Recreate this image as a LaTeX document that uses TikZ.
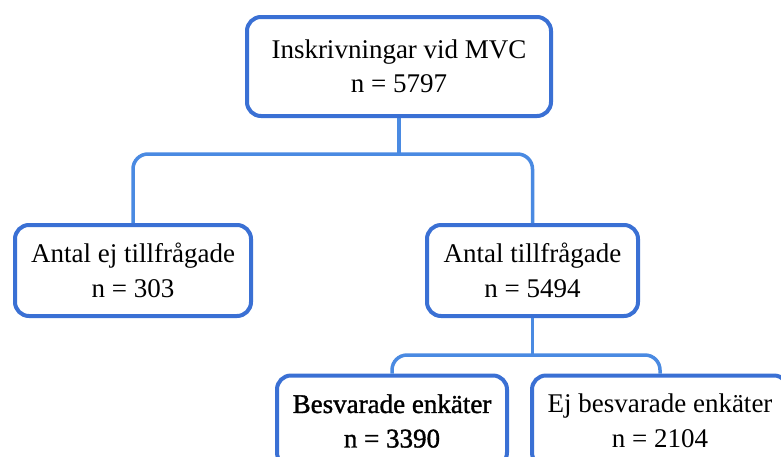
\documentclass[tikz,border=0pt]{standalone}
\usepackage{fontspec}
\setmainfont{Liberation Serif}
\newfontface\fakebf[FakeBold=1.3]{Liberation Serif}
\definecolor{boxblue}{RGB}{58,112,212}
\definecolor{linkblue}{RGB}{74,138,226}
\begin{document}
\begin{tikzpicture}[x=1pt,y=-1pt,
  box/.style={draw=boxblue, line width=4pt, rounded corners=14pt, fill=white,
    align=center, inner sep=0pt, minimum height=91pt,
    font=\fontsize{27}{34.5}\selectfont},
  conn/.style={draw=linkblue, line width=3.5pt, rounded corners=15pt}]
\useasboundingbox (0,0) rectangle (781,456);
\clip (0,0) rectangle (781,456);
\fill[white] (0,0) rectangle (781,456);
\node[box, minimum width=304pt, minimum height=99pt] (top) at (399,66.5) {Inskrivningar vid MVC\\n = 5797};
\node[box, minimum width=236pt] (left) at (133,270.5) {Antal ej tillfrågade\\n = 303};
\node[box, minimum width=211pt] (right) at (532.5,270.5) {Antal tillfrågade\\n = 5494};
\node[box, minimum width=230pt, font=\fontsize{27}{34.5}\fakebf] (bl) at (392,421) {Besvarade enkäter\\n = 3390};
\node[box, minimum width=256pt] (br) at (660,421) {Ej besvarade enkäter\\n = 2104};
\coordinate (j1) at (top.south |- 0,154);
\coordinate (j2) at (right.south |- 0,355);
\draw[conn] (top.south) -- (j1);
\draw[conn] (left.north) |- (j1) -| (right.north);
\draw[conn] (right.south) -- (j2);
\draw[conn] (bl.north) |- (j2) -| (br.north);
\end{tikzpicture}
\end{document}
